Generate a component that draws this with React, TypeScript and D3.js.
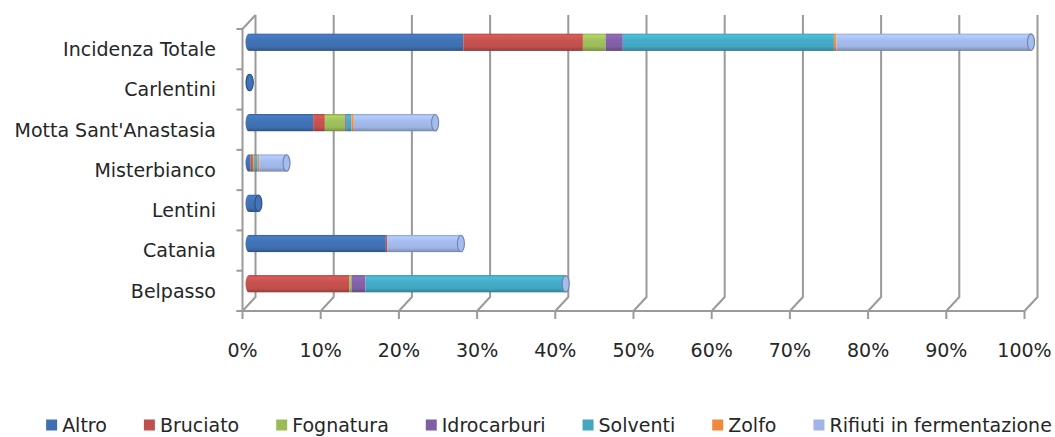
import React from "react";
import * as d3 from "d3";

// Categories, top to bottom
const categories = [
  "Incidenza Totale",
  "Carlentini",
  "Motta Sant'Anastasia",
  "Misterbianco",
  "Lentini",
  "Catania",
  "Belpasso",
];

// Series values (percent), one per category in the order above
const altro = [27.4, 0.1, 8.2, 0.2, 1.2, 17.5, 0];
const bruciato = [15.3, 0, 1.5, 0.3, 0, 0.2, 12.8];
const fognatura = [2.9, 0, 2.6, 0.2, 0, 0, 0.3];
const idrocarburi = [2.2, 0, 0.2, 0.1, 0, 0, 1.8];
const solventi = [27.0, 0, 0.6, 0.3, 0, 0, 25.4];
const zolfo = [0.3, 0, 0.3, 0.2, 0, 0, 0];
const rifiuti = [24.9, 0, 10.4, 3.5, 0, 9.4, 0.2];

const seriesNames = [
  "Altro",
  "Bruciato",
  "Fognatura",
  "Idrocarburi",
  "Solventi",
  "Zolfo",
  "Rifiuti in fermentazione",
];
const seriesValues = [altro, bruciato, fognatura, idrocarburi, solventi, zolfo, rifiuti];
const seriesColors = ["#3f6fb0", "#c0504d", "#9bbb59", "#7f5fa3", "#43a7c1", "#f0893c", "#9fb5e6"];

const tickValues = [0, 10, 20, 30, 40, 50, 60, 70, 80, 90, 100];

const W = 1055;
const H = 437;
const FONT = "'DejaVu Sans', sans-serif";
const TEXT = "#262626";
const GRID = "#9a9a9a";

// 3D box geometry (oblique projection)
const DX = 13; // depth offset in x
const DY = -14; // depth offset in y
const frontLeft = 242.5;
const frontRight = 1024.5;
const frontTop = 29;
const frontBottom = 311;

export default function App() {
  const xFront = d3.scaleLinear().domain([0, 100]).range([frontLeft, frontRight]);
  const xBar = (v: number) => xFront(v) + DX / 2;
  const yFront = d3.scaleBand<string>().domain(categories).range([frontTop, frontBottom]).padding(0);
  const barH = 17.5;
  const rx = 3.5;
  const ry = barH / 2;

  const stacked = d3
    .stack<number>()
    .keys(seriesNames.map((_, i) => String(i)))
    .value((ci, key) => seriesValues[+key][ci])(d3.range(categories.length));

  const legendFont = `19px ${FONT}`;
  let widths: number[] = seriesNames.map((n) => n.length * 10);
  if (typeof document !== "undefined") {
    const ctx = document.createElement("canvas").getContext("2d");
    if (ctx) {
      ctx.font = legendFont;
      widths = seriesNames.map((n) => ctx.measureText(n).width);
    }
  }
  const markerW = 11;
  const markerGap = 5;
  const itemGap = 37;
  const totalLegend =
    widths.reduce((a, w) => a + markerW + markerGap + w, 0) + itemGap * (seriesNames.length - 1);
  let lx = 549 - totalLegend / 2;
  const legendItems = seriesNames.map((n, i) => {
    const item = { name: n, x: lx, color: seriesColors[i] };
    lx += markerW + markerGap + widths[i] + itemGap;
    return item;
  });

  return (
    <svg width={W} height={H} style={{ display: "block", position: "absolute", left: 0, top: 0 }}>
      <defs>
        {seriesColors.map((c, i) => {
          const base = d3.color(c)!;
          return (
            <linearGradient key={i} id={`g${i}`} x1="0" y1="0" x2="0" y2="1">
              <stop offset="0" stopColor={base.darker(0.4).formatHex()} />
              <stop offset="0.12" stopColor={base.brighter(0.35).formatHex()} />
              <stop offset="0.4" stopColor={base.brighter(0.1).formatHex()} />
              <stop offset="0.75" stopColor={base.formatHex()} />
              <stop offset="0.92" stopColor={base.darker(0.5).formatHex()} />
              <stop offset="1" stopColor={base.darker(1).formatHex()} />
            </linearGradient>
          );
        })}
        {categories.map((c, ci) => {
          const total = d3.sum(seriesValues, (s) => s[ci]);
          const cy = yFront(c)! + yFront.bandwidth() / 2 + DY / 2;
          const x0 = xBar(0);
          const x1 = xBar(total);
          const top = cy - ry;
          const bot = cy + ry;
          return (
            <clipPath key={ci} id={`clip${ci}`}>
              <path
                d={`M${x0},${top} L${x1},${top} A${rx},${ry} 0 0 1 ${x1},${bot} L${x0},${bot} A${rx},${ry} 0 0 1 ${x0},${top} Z`}
              />
            </clipPath>
          );
        })}
      </defs>

      {/* back wall gridlines with floor diagonals */}
      {tickValues.map((t) => {
        const xf = xFront(t);
        const xb = xf + DX;
        return (
          <path
            key={`grid${t}`}
            d={`M${xb},${frontTop + DY} L${xb},${frontBottom + DY} L${xf},${frontBottom}`}
            fill="none"
            stroke={GRID}
            strokeWidth={2}
          />
        );
      })}

      {/* left side wall */}
      <path
        d={`M${frontLeft},${frontBottom} L${frontLeft},${frontTop} L${frontLeft + DX},${frontTop + DY}`}
        fill="none"
        stroke={GRID}
        strokeWidth={2}
      />
      {d3.range(categories.length + 1).map((i) => {
        const y = frontTop + i * yFront.step();
        return <line key={`lt${i}`} x1={frontLeft - 6} x2={frontLeft} y1={y} y2={y} stroke={GRID} strokeWidth={2} />;
      })}

      {/* floor front edge and ticks */}
      <line x1={frontLeft - 6} x2={frontRight} y1={frontBottom} y2={frontBottom} stroke={GRID} strokeWidth={2} />
      {tickValues.map((t) => (
        <line key={`tk${t}`} x1={xFront(t)} x2={xFront(t)} y1={frontBottom} y2={frontBottom + 8} stroke={GRID} strokeWidth={2} />
      ))}

      {/* bars */}
      {categories.map((c, ci) => {
        const total = d3.sum(seriesValues, (s) => s[ci]);
        const cy = yFront(c)! + yFront.bandwidth() / 2 + DY / 2;
        const top = cy - ry;
        const segs = stacked
          .map((layer, si) => ({ si, v0: layer[ci][0], v1: layer[ci][1] }))
          .filter((s) => s.v1 - s.v0 > 0);
        if (!segs.length) return null;
        const last = segs[segs.length - 1];
        const lastColor = d3.color(seriesColors[last.si])!;
        return (
          <g key={`bar${ci}`}>
            <g clipPath={`url(#clip${ci})`}>
              {segs.map((s, k) => {
                const a = k === 0 ? xBar(s.v0) - rx - 2 : xBar(s.v0);
                const b = k === segs.length - 1 ? xBar(s.v1) + rx + 2 : xBar(s.v1);
                return <rect key={s.si} x={a} y={top} width={Math.max(0.6, b - a)} height={barH} fill={`url(#g${s.si})`} />;
              })}
            </g>
            <ellipse
              cx={xBar(total)}
              cy={cy}
              rx={rx}
              ry={ry - 0.5}
              fill={lastColor.brighter(0.1).formatHex()}
              stroke={lastColor.darker(0.9).formatHex()}
              strokeWidth={1.1}
            />
          </g>
        );
      })}

      {/* category labels */}
      {categories.map((c) => (
        <text
          key={`cl${c}`}
          x={216}
          y={yFront(c)! + yFront.bandwidth() / 2}
          dy="0.36em"
          textAnchor="end"
          fontFamily={FONT}
          fontSize={19}
          fill={TEXT}
        >
          {c}
        </text>
      ))}

      {/* value axis labels */}
      {tickValues.map((t) => (
        <text
          key={`xl${t}`}
          x={xFront(t)}
          y={350}
          dy="0.36em"
          textAnchor="middle"
          fontFamily={FONT}
          fontSize={19}
          fill={TEXT}
        >
          {`${t}%`}
        </text>
      ))}

      {/* legend */}
      {legendItems.map((it) => (
        <g key={`lg${it.name}`}>
          <rect x={it.x} y={419.5} width={markerW} height={markerW} fill={it.color} />
          <text x={it.x + markerW + markerGap} y={425} dy="0.36em" fontFamily={FONT} fontSize={19} fill={TEXT}>
            {it.name}
          </text>
        </g>
      ))}
    </svg>
  );
}
